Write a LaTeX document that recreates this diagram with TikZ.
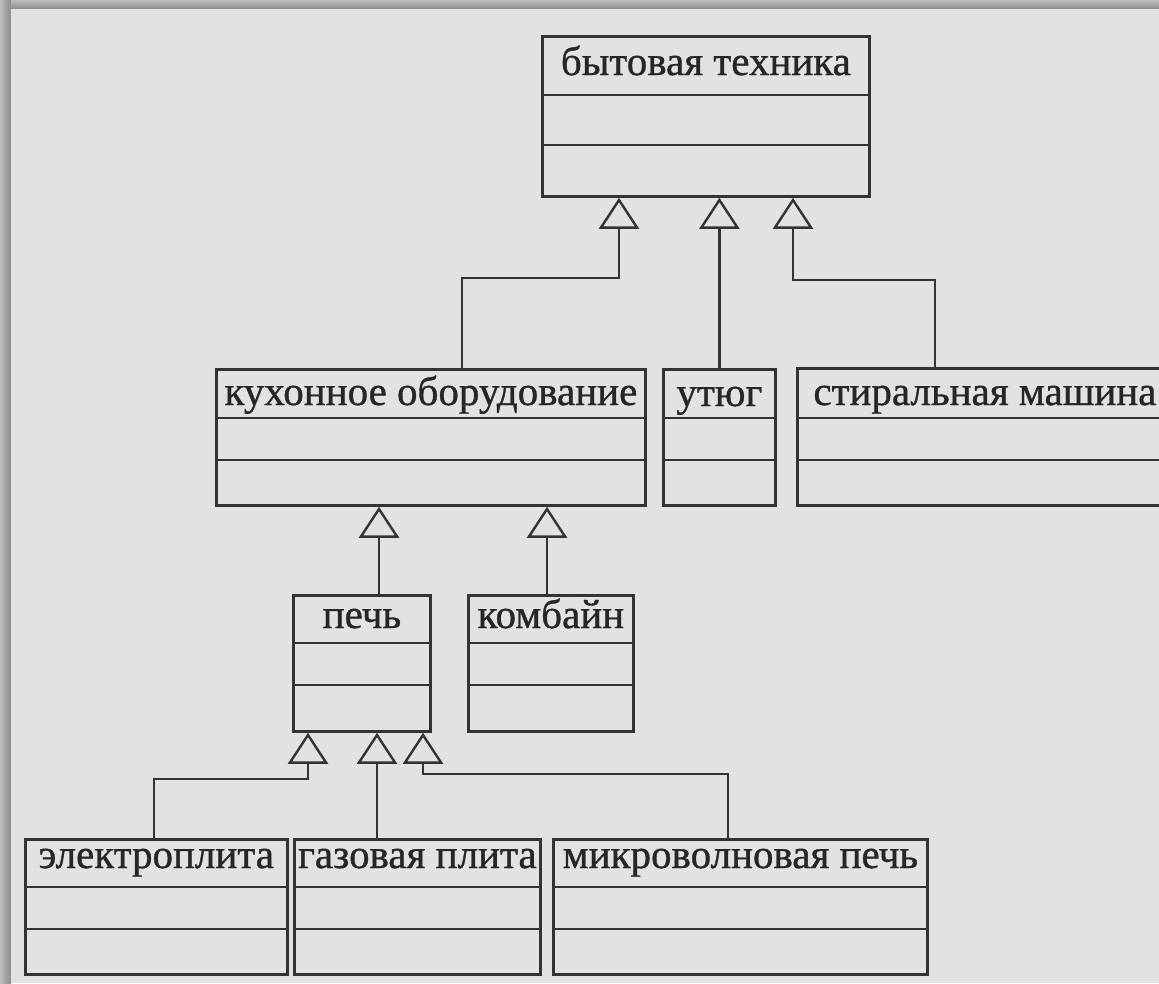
\documentclass[tikz,border=0pt]{standalone}
\usepackage{fontspec}
\setmainfont[FakeBold=1]{Liberation Serif}
\newfontfamily\umlfont[FakeBold=0.9]{Liberation Serif}
\usetikzlibrary{arrows.meta,calc}
\definecolor{bg}{HTML}{E2E2E2}
\definecolor{ln}{HTML}{333333}
\definecolor{shdark}{HTML}{8C8C8C}
\definecolor{shlight}{HTML}{BDBDBD}
\newcommand{\umlclass}[9]{%
  \node[classbox, minimum width=#4pt, minimum height=#5pt] (#1) at (#2,#3) {};
  \draw[divider] ([yshift=-#6pt]#1.north west) -- ([yshift=-#6pt]#1.north east);
  \draw[divider] ([yshift=-#7pt]#1.north west) -- ([yshift=-#7pt]#1.north east);
  \node[lbl] (#1-t) at ([yshift=-#8pt]#1.north) {#9};
}
\begin{document}
\begin{tikzpicture}[x=1pt,y=-1pt,
  classbox/.style={draw=ln, line width=2.8pt, rectangle, inner sep=0pt, anchor=north west},
  divider/.style={draw=ln, line width=2.6pt},
  lbl/.style={font=\umlfont\fontsize{41}{41}\selectfont, inner sep=0pt, anchor=base, text=black!85},
  gen/.style={draw=ln, line width=2.5pt, -{Triangle[open, length=31pt, width=40pt, line width=2.4pt]}},
]
\useasboundingbox (0,0) rectangle (1159,983);
\clip (0,0) rectangle (1159,983);
\fill[shlight] (0,0) rectangle (1159,983);
\shade[left color=shlight, right color=shdark] (0,0) rectangle (11,983);
\shade[top color=shlight, bottom color=shdark] (11,0) rectangle (1159,9);
\fill[bg] (11,9) rectangle (1159,983);

% classes
\umlclass{bt}{541}{35}{327}{160}{60}{110}{40}{бытовая техника}
\umlclass{kux}{215}{368}{429}{136}{50}{92}{37}{кухонное оборудование}
\umlclass{ut}{662}{368}{112}{136}{50}{92}{38}{утюг}
\umlclass{st}{796}{367}{375}{137}{51}{93}{38}{стиральная машина}
\umlclass{pech}{292}{594}{137}{136}{49}{91}{34}{печь}
\umlclass{komb}{467}{594}{165}{136}{49}{91}{34}{комбайн}
\umlclass{el}{24}{838}{262}{135}{49}{91}{30}{электроплита}
\umlclass{gaz}{293}{838}{246}{135}{49}{91}{30}{газовая плита}
\umlclass{mic}{552}{838}{374}{135}{49}{91}{30}{микроволновая печь}

% junction points
\coordinate (c1) at (462,278);
\coordinate (c2) at (619,278);
\coordinate (c4) at (935,280);
\coordinate (c5) at (793,280);
\coordinate (c6) at (379,560);
\coordinate (c7) at (547,560);
\coordinate (c8) at (154,779);
\coordinate (c9) at (308,779);
\coordinate (c10) at (377,800);
\coordinate (c11) at (728,774);
\coordinate (c12) at (423,774);

% generalizations
\draw[gen] (kux.north -| c1) -- (c1) -- (c2) -- (bt.south -| c2);
\draw[gen] (ut.north) -- (bt.south -| ut.north);
\draw[gen] (st.north -| c4) -- (c4) -- (c5) -- (bt.south -| c5);
\draw[gen] (pech.north -| c6) -- (kux.south -| c6);
\draw[gen] (komb.north -| c7) -- (kux.south -| c7);
\draw[gen] (el.north -| c8) -- (c8) -- (c9) -- (pech.south -| c9);
\draw[gen] (gaz.north -| c10) -- (pech.south -| c10);
\draw[gen] (mic.north -| c11) -- (c11) -- (c12) -- (pech.south -| c12);
\end{tikzpicture}
\end{document}
